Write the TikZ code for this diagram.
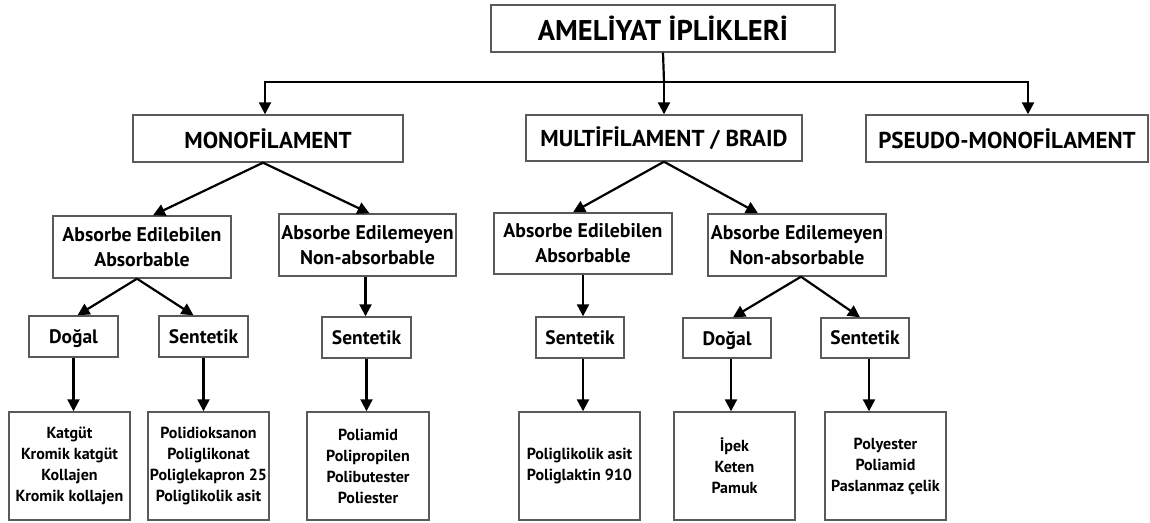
\documentclass[tikz,border=0pt]{standalone}
\usepackage{fontspec}
\setmainfont{PT Sans}
\usetikzlibrary{arrows.meta,calc}
\definecolor{boxgray}{HTML}{5A5A5A}
\begin{document}
\begin{tikzpicture}[x=1pt,y=-1pt,
  box/.style={draw=boxgray,line width=1.4pt,align=center,inner sep=0pt,font=\bfseries},
  fTitle/.style={font=\bfseries\fontsize{28.5}{32}\selectfont},
  fMain/.style={font=\bfseries\fontsize{23}{27}\selectfont},
  fAbs/.style={font=\bfseries\fontsize{19.8}{25}\selectfont},
  fSub/.style={font=\bfseries\fontsize{19.5}{24}\selectfont,text depth=0pt},
  fLeaf/.style={font=\bfseries\fontsize{16}{21}\selectfont},
  conn/.style={line width=2.2pt,black},
  arr/.style={conn,-{Triangle[length=12pt,width=12pt]}}]
\useasboundingbox (0,0) rectangle (1150,522);
% level 0
\node[box,fTitle,minimum width=344pt,minimum height=47pt] (title) at (663,28.5) {AMELİYAT İPLİKLERİ};
% level 1
\node[box,fMain,minimum width=270pt,minimum height=47pt] (mono) at (268,138.5) {MONOFİLAMENT};
\node[box,fMain,minimum width=276pt,minimum height=46pt] (multi) at (664,138) {MULTİFİLAMENT / BRAID};
\node[box,fMain,minimum width=282pt,minimum height=47pt] (pseudo) at (1007,138.5) {PSEUDO-MONOFİLAMENT};
% level 2
\node[box,fAbs,minimum width=178pt,minimum height=62pt] (mAE) at (142,247) {Absorbe Edilebilen\\Absorbable};
\node[box,fAbs,minimum width=177pt,minimum height=62pt] (mNE) at (367.5,245) {Absorbe Edilemeyen\\Non-absorbable};
\node[box,fAbs,minimum width=178pt,minimum height=61pt] (uAE) at (583,243.5) {Absorbe Edilebilen\\Absorbable};
\node[box,fAbs,minimum width=178pt,minimum height=62pt] (uNE) at (797,245) {Absorbe Edilemeyen\\Non-absorbable};
% level 3
\node[box,fSub,minimum width=89pt,minimum height=41pt] (mDog) at (73.5,336.5) {Doğal};
\node[box,fSub,minimum width=89pt,minimum height=41pt] (mSen) at (203.5,336.5) {Sentetik};
\node[box,fSub,minimum width=89pt,minimum height=41pt] (mnSen) at (366.5,337.5) {Sentetik};
\node[box,fSub,minimum width=88pt,minimum height=41pt] (uSen) at (580,337.5) {Sentetik};
\node[box,fSub,minimum width=88pt,minimum height=40pt] (uDog) at (727,338) {Doğal};
\node[box,fSub,minimum width=88pt,minimum height=40pt] (unSen) at (865,338) {Sentetik};
% level 4
\node[box,fLeaf,minimum width=121pt,minimum height=108pt] (l1) at (69.5,466) {Katgüt\\Kromik katgüt\\Kollajen\\Kromik kollajen};
\node[box,fLeaf,minimum width=121pt,minimum height=108pt] (l2) at (208.5,466) {Polidioksanon\\Poliglikonat\\Poliglekapron 25\\Poliglikolik asit};
\node[box,fLeaf,minimum width=122pt,minimum height=108pt] (l3) at (368,466) {Poliamid\\Polipropilen\\Polibutester\\Poliester};
\node[box,fLeaf,minimum width=121pt,minimum height=108pt] (l4) at (579.5,466) {Poliglikolik asit\\Poliglaktin 910};
\node[box,fLeaf,minimum width=121pt,minimum height=108pt] (l5) at (734.5,466) {İpek\\Keten\\Pamuk};
\node[box,fLeaf,minimum width=121pt,minimum height=108pt] (l6) at (885.5,466) {Polyester\\Poliamid\\Paslanmaz çelik};
% connectors level 0 -> 1
\coordinate (j) at (664,82);
\draw[conn] (title.south) -- (j);
\draw[arr] (j) -| ([xshift=-3pt]mono.north);
\draw[arr] (j) -- (multi.north);
\draw[arr] (j) -| ([xshift=21pt]pseudo.north);
% level 1 -> 2
\draw[arr] ([xshift=-5pt]mono.south) -- ([xshift=11pt]mAE.north);
\draw[arr] ([xshift=-5pt]mono.south) -- ([xshift=2pt]mNE.north);
\draw[arr] (multi.south) -- ([xshift=-10pt]uAE.north);
\draw[arr] (multi.south) -- ([xshift=-39pt]uNE.north);
% level 2 -> 3
\draw[arr] ([xshift=-5pt]mAE.south) -- ([xshift=4pt]mDog.north);
\draw[arr] ([xshift=-5pt]mAE.south) -- ([xshift=-10pt]mSen.north);
\draw[arr] ([xshift=-2pt]mNE.south) -- ([xshift=-2pt]mNE.south |- mnSen.north);
\draw[arr] (uAE.south) -- (uAE.south |- uSen.north);
\draw[arr] ([xshift=4pt]uNE.south) -- ([xshift=6pt]uDog.north);
\draw[arr] ([xshift=4pt]uNE.south) -- ([xshift=-5pt]unSen.north);
% level 3 -> 4
\draw[arr] (mDog.south) -- (mDog.south |- l1.north);
\draw[arr] (mSen.south) -- (mSen.south |- l2.north);
\draw[arr] (mnSen.south) -- (mnSen.south |- l3.north);
\draw[arr] ([xshift=3pt]uSen.south) -- ([xshift=3pt]uSen.south |- l4.north);
\draw[arr] ([xshift=4pt]uDog.south) -- ([xshift=4pt]uDog.south |- l5.north);
\draw[arr] ([xshift=4pt]unSen.south) -- ([xshift=4pt]unSen.south |- l6.north);
\end{tikzpicture}
\end{document}
